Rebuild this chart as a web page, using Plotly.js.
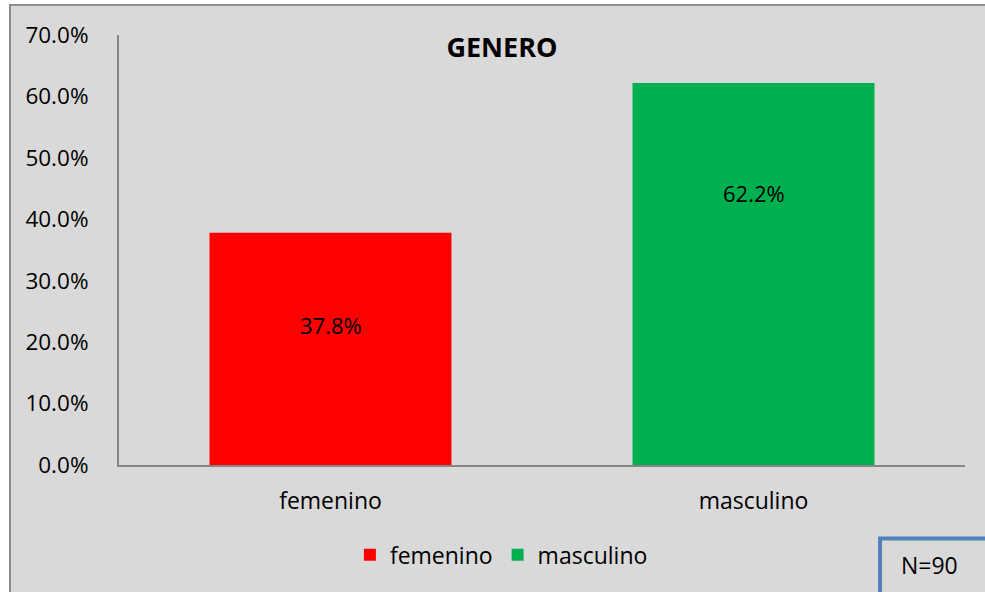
<!DOCTYPE html>
<html>
<head>
<meta charset="utf-8">
<script src="https://cdn.plot.ly/plotly-3.0.1.min.js"></script>
<style>
  html, body { margin: 0; padding: 0; background: #ffffff; }
  #chart { width: 985px; height: 592px; }
</style>
</head>
<body>
<div id="chart"></div>
<script>
const categories = ["femenino", "masculino"];
const shares = [0.378, 0.622];
const barColors = ["#ff0000", "#00b050"];
const sampleNote = "N=90";
const chartTitle = "GENERO";

// where the value labels sit inside each bar (fraction of axis)
const labelHeights = [0.228, 0.443];

const FONT = "Open Sans, Noto Sans, sans-serif";
const GRAY_BG = "#d9d9d9";
const AXIS_GRAY = "#868686";

const traces = categories.map((cat, i) => ({
  type: "bar",
  x: [cat],
  y: [shares[i]],
  name: cat,
  marker: { color: barColors[i], line: { width: 0 } },
  hoverinfo: "skip"
}));

const valueLabels = categories.map((cat, i) => ({
  x: cat,
  y: labelHeights[i],
  xref: "x",
  yref: "y",
  xanchor: "center",
  text: (shares[i] * 100).toFixed(1) + "%",
  showarrow: false,
  font: { family: FONT, size: 22, color: "#000000" }
}));

const layout = {
  width: 985,
  height: 592,
  margin: { l: 119, r: 20, t: 35, b: 127 },
  paper_bgcolor: "#ffffff",
  plot_bgcolor: "rgba(0,0,0,0)",
  barmode: "overlay",
  bargap: 0.428,
  font: { family: FONT, size: 22, color: "#000000" },
  title: {
    text: "<b>" + chartTitle + "</b>",
    xref: "paper",
    x: 0.4527,
    xanchor: "center",
    yref: "container",
    y: 1 - 48 / 592,
    yanchor: "middle",
    font: { family: FONT, size: 27, color: "#000000" }
  },
  xaxis: {
    type: "category",
    showline: true,
    linecolor: AXIS_GRAY,
    linewidth: 2,
    ticks: "",
    showgrid: false,
    zeroline: false,
    ticklabelstandoff: 14,
    tickfont: { family: FONT, size: 23, color: "#000000" },
    fixedrange: true
  },
  yaxis: {
    range: [0, 0.7],
    dtick: 0.1,
    tick0: 0,
    tickformat: ".1%",
    showline: true,
    linecolor: AXIS_GRAY,
    linewidth: 2,
    ticks: "",
    showgrid: false,
    zeroline: false,
    ticklabelstandoff: 24,
    tickfont: { family: FONT, size: 22.5, color: "#000000" },
    fixedrange: true
  },
  showlegend: true,
  legend: {
    orientation: "h",
    x: 0.452,
    xanchor: "center",
    y: -0.209,
    yanchor: "middle",
    bgcolor: "rgba(0,0,0,0)",
    font: { family: FONT, size: 23, color: "#000000" },
    itemwidth: 30,
    traceorder: "normal"
  },
  shapes: [
    {
      type: "rect",
      xref: "paper",
      yref: "paper",
      x0: -0.12884,
      x1: 1.2,
      y0: -0.6,
      y1: 1.06977,
      fillcolor: GRAY_BG,
      line: { color: "#8c8c8c", width: 2 },
      layer: "below"
    },
    {
      type: "rect",
      xref: "paper",
      yref: "paper",
      x0: 0.8996,
      x1: 1.2,
      y0: -0.6,
      y1: -0.1709,
      fillcolor: GRAY_BG,
      line: { color: "#4f81bd", width: 4 },
      layer: "below"
    }
  ],
  annotations: valueLabels.concat([
    {
      xref: "paper",
      yref: "paper",
      x: 0.9586,
      y: -0.2326,
      xanchor: "center",
      yanchor: "middle",
      text: sampleNote,
      showarrow: false,
      font: { family: FONT, size: 23, color: "#000000" }
    }
  ])
};

Plotly.newPlot("chart", traces, layout, {
  displayModeBar: false,
  staticPlot: true
});
</script>
</body>
</html>
